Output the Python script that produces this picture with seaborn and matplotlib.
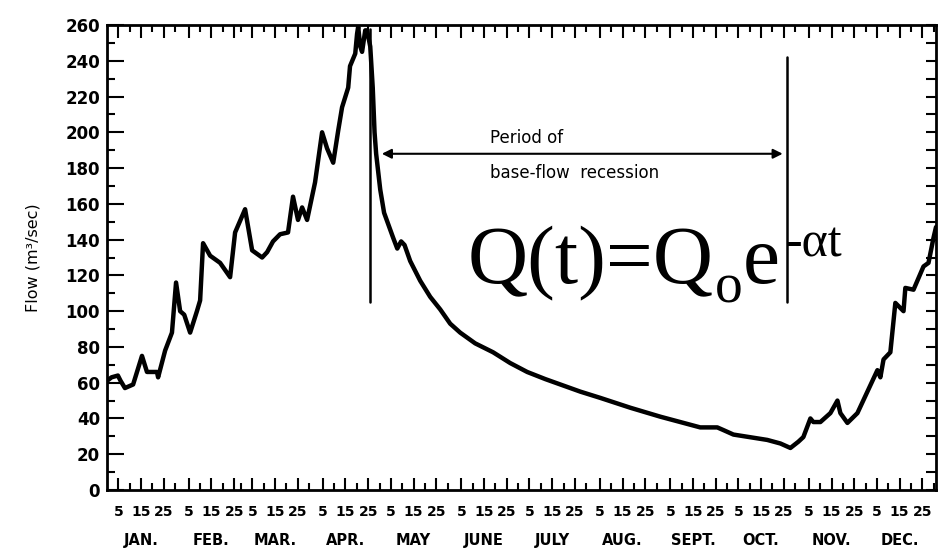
import numpy as np
import pandas as pd
import matplotlib
matplotlib.use("Agg")
import matplotlib.pyplot as plt
import seaborn as sns
from matplotlib.ticker import FixedLocator, NullFormatter

# ---- data (day of year, flow m3/sec) ----
day = [0, 2, 4.8, 6, 7.9, 11.5, 15.4, 17.6, 22, 22.5, 25.6, 28.6, 30.4, 32.2, 34,
       36.6, 39.6, 41, 42.3, 45.4, 49.8, 54.2, 56.4, 60.8, 63.9, 68.3, 70.5, 73.1,
       76.2, 79.7, 81.9, 84.1, 85.9, 88.1, 91.6, 94.7, 96.9, 99.6, 101.8, 103.5,
       106.2, 107, 109.3, 110.1, 110.6, 111.5, 112.3, 113.7, 114.5, 115.9, 117,
       117.8, 118.5, 120.3, 122, 124, 126, 127.8, 129.5, 131, 133.5, 137.9, 142.3,
       146.7, 151.1, 155.5, 162.1, 170, 177.5, 185, 193, 199.6, 208.4, 217.2,
       230.4, 243.6, 252.4, 261.2, 268.7, 271.4,
       275.8, 290.7, 296.5, 300.9, 304.4, 306.6, 309.7, 311, 314.1, 318.5, 321.6,
       322.9, 326, 330.4, 334.8, 339.2, 340.5, 341.9, 344.9, 347.1, 350.7, 351.5,
       355.1, 359.5, 361.7, 363.9, 365]
flow = [61, 63, 64, 61, 57, 59, 75, 66, 66, 63, 78, 88, 116, 100, 98,
        88, 100, 106, 138, 131, 127, 119, 144, 157, 134, 130, 133, 139,
        143, 144, 164, 151, 158, 151, 172, 200, 191, 183, 201, 214,
        225, 237, 244, 255, 259, 248, 245, 257, 257, 248, 225,
        200, 188, 168, 155, 148, 141, 135, 139, 137, 128, 117, 108,
        101, 93, 88, 82, 77, 71, 66, 62, 59, 55, 51.5,
        46, 41, 38, 35, 35, 33.5,
        31, 28, 26, 23.5, 27, 29.6, 40, 38, 38, 43, 50,
        43, 37.5, 43, 55, 67, 63, 73, 77, 104.6, 100, 113,
        112, 125, 127, 141, 147]

month_names = ["JAN.", "FEB.", "MAR.", "APR.", "MAY", "JUNE", "JULY", "AUG.",
               "SEPT.", "OCT.", "NOV.", "DEC."]
month_days = [31, 28, 31, 30, 31, 30, 31, 31, 30, 31, 30, 31]
day_labels = ["5", "15", "25"]
y_ticks = list(range(0, 261, 20))

recession_start = 116      # day of left vertical line
recession_end = 299.6      # day of right vertical line

df = pd.DataFrame({"day": day, "flow": flow})

# ---- figure ----
sns.set_style("white")
plt.rcParams["font.family"] = ["DejaVu Sans"]
for k in ("text.color", "axes.labelcolor", "xtick.color", "ytick.color",
          "axes.edgecolor"):
    plt.rcParams[k] = "black"

fig = plt.figure(figsize=(9.38, 5.51), dpi=100)
ax = fig.add_axes([107 / 938, 61 / 551, (936 - 107) / 938, (490 - 25) / 551])

sns.lineplot(data=df, x="day", y="flow", ax=ax, color="black", lw=3.2,
             sort=False, estimator=None)

ax.set_xlim(0, 365)
ax.set_ylim(0, 260)

for s in ax.spines.values():
    s.set_linewidth(2.0)
    s.set_color("black")

# x ticks
cum = np.cumsum([0] + month_days[:-1])
major = [c + int(d) for c in cum for d in day_labels]
minor = []
for c, md in zip(cum, month_days):
    for d in (10, 20, 30):
        minor.append(c + min(d, md))
ax.xaxis.set_major_locator(FixedLocator(major))
ax.set_xticklabels(day_labels * 12, fontsize=10, fontweight="bold")
ax.xaxis.set_minor_locator(FixedLocator(minor))
ax.tick_params(axis="x", which="major", direction="in", length=9, width=1.5,
               top=True, bottom=True, pad=11)
ax.tick_params(axis="x", which="minor", direction="in", length=5, width=1.5,
               top=True, bottom=True)

# y ticks
ax.set_yticks(y_ticks)
ax.set_yticklabels([str(v) for v in y_ticks], fontsize=12, fontweight="bold")
ax.yaxis.set_minor_locator(FixedLocator(list(range(10, 260, 20))))
ax.tick_params(axis="y", which="major", direction="in", length=12, width=1.5,
               left=True, right=False, pad=5)
ax.tick_params(axis="y", which="minor", direction="in", length=6, width=1.5,
               left=True, right=False)

# right-side ticks every 10
axr = ax.twinx()
axr.set_ylim(0, 260)
axr.yaxis.set_major_locator(FixedLocator(list(range(0, 261, 10))))
axr.yaxis.set_major_formatter(NullFormatter())
axr.tick_params(axis="y", direction="in", length=7, width=1.5)
for s in axr.spines.values():
    s.set_visible(False)

# month labels
mid = [c + 15 for c in cum]
for m, name in zip(mid, month_names):
    ax.text(m, -0.108, name, transform=ax.get_xaxis_transform(), ha="center",
            va="center", fontsize=10.5, fontweight="bold")

ax.set_xlabel("")
ax.set_ylabel("Flow (m³/sec)", fontsize=11.5, labelpad=18)

# recession markers
ax.plot([recession_start, recession_start], [105, 258], color="black", lw=1.8)
ax.plot([recession_end, recession_end], [105, 242], color="black", lw=1.8)
ax.annotate("", xy=(121, 188), xytext=(297.5, 188),
            arrowprops=dict(arrowstyle="<|-|>", color="black", lw=1.5,
                            mutation_scale=14, shrinkA=0, shrinkB=0))
ax.text(168.5, 197, "Period of", fontsize=12, ha="left", va="center")
ax.text(168.5, 177, "base-flow  recession", fontsize=12, ha="left", va="center")

# equation Q(t)=Qo e^-at
serif = "Liberation Serif"
t1 = ax.text(158.6, 115.8, "Q(t)=Q", fontsize=60, family=serif,
             ha="left", va="baseline")
t2 = ax.annotate("o", xy=(1, 0), xycoords=t1, xytext=(1, -10),
                 textcoords="offset points", fontsize=40, family=serif,
                 ha="left", va="bottom")
t3 = ax.annotate("e", xy=(1, 0), xycoords=t2, xytext=(0, 10),
                 textcoords="offset points", fontsize=60, family=serif,
                 ha="left", va="bottom")
t4 = ax.annotate("-αt", xy=(1, 0), xycoords=t3, xytext=(4, 24),
                 textcoords="offset points", fontsize=36, family=serif,
                 ha="left", va="bottom")

fig.savefig("out.png", dpi=100)
